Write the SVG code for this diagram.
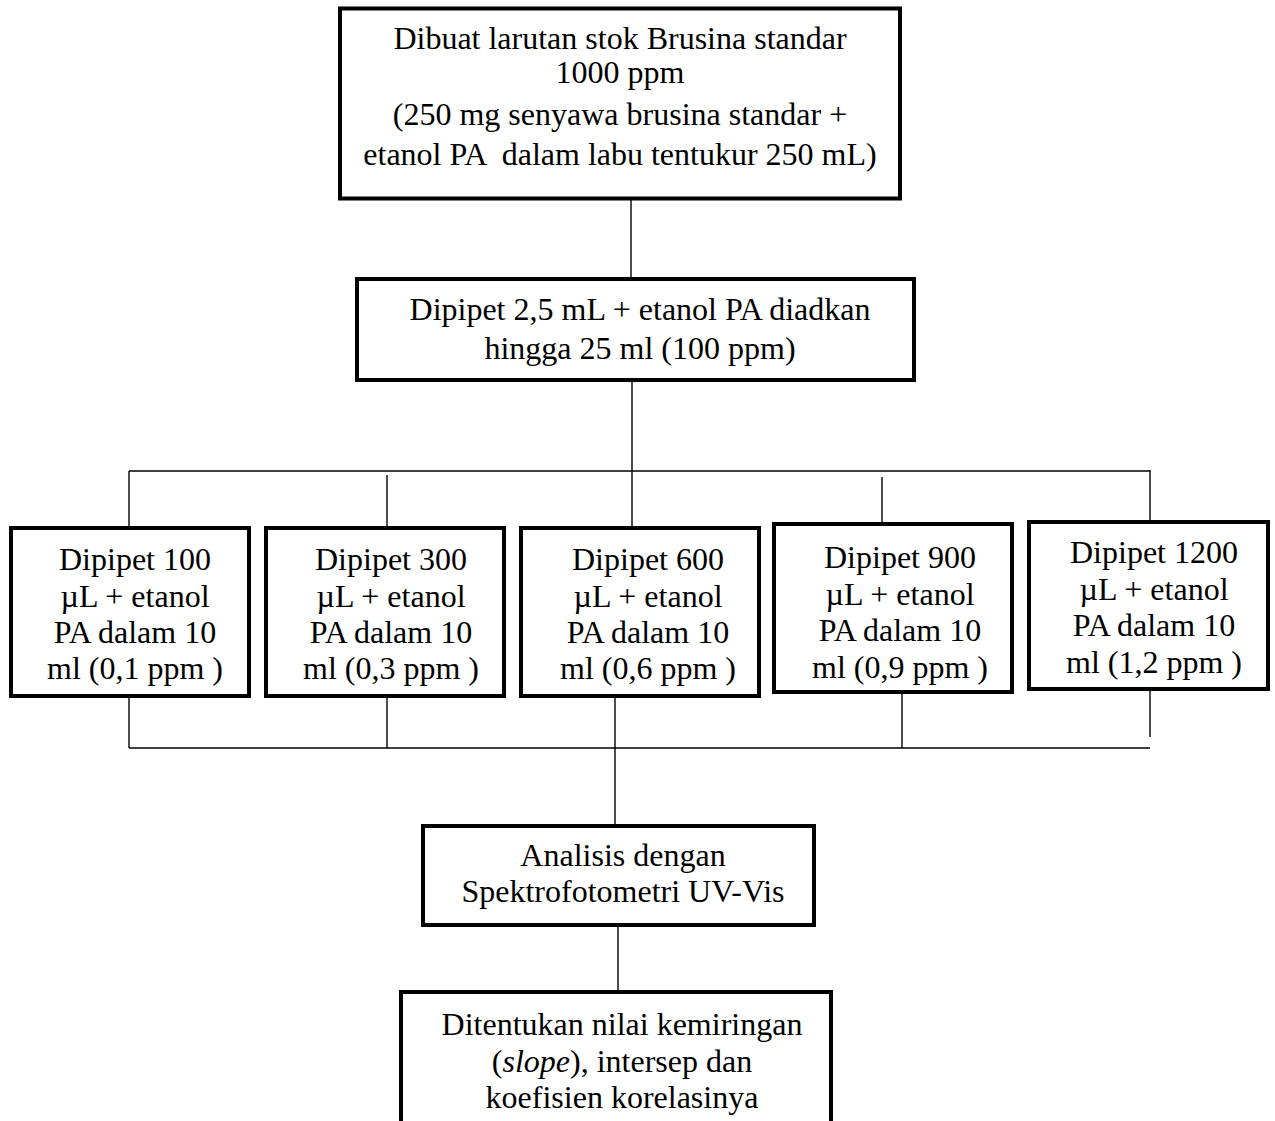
<svg xmlns="http://www.w3.org/2000/svg" width="1275" height="1121" viewBox="0 0 1275 1121">
  <style>
    .box { fill: #ffffff; stroke: #000000; stroke-width: 4; }
    .wire { stroke: #000000; stroke-width: 1.4; fill: none; }
    text { font-family: "Liberation Serif", "Times New Roman", serif; font-size: 32px; fill: #000000; text-anchor: middle; white-space: pre; }
  </style>
  <rect width="1275" height="1121" fill="#ffffff"/>

  <!-- connectors -->
  <g id="connectors">
    <line class="wire" x1="631" y1="200" x2="631" y2="277"/>
    <line class="wire" x1="632" y1="382" x2="632" y2="526"/>
    <line class="wire" x1="129" y1="471" x2="1150" y2="471"/>
    <line class="wire" x1="129" y1="471" x2="129" y2="526"/>
    <line class="wire" x1="387" y1="475" x2="387" y2="526"/>
    <line class="wire" x1="882" y1="477" x2="882" y2="522"/>
    <line class="wire" x1="1150" y1="470" x2="1150" y2="520"/>
    <line class="wire" x1="129" y1="697" x2="129" y2="748"/>
    <line class="wire" x1="387" y1="697" x2="387" y2="748"/>
    <line class="wire" x1="615" y1="697" x2="615" y2="825"/>
    <line class="wire" x1="902" y1="693" x2="902" y2="748"/>
    <line class="wire" x1="1150" y1="691" x2="1150" y2="737"/>
    <line class="wire" x1="129" y1="748" x2="1150" y2="748"/>
    <line class="wire" x1="618" y1="925" x2="618" y2="990"/>
  </g>

  <!-- stock solution -->
  <g id="stok">
    <rect class="box" x="340" y="8.5" width="560" height="190"/>
    <text x="620" y="49">Dibuat larutan stok Brusina standar</text>
    <text x="620" y="83">1000 ppm</text>
    <text x="620" y="125">(250 mg senyawa brusina standar +</text>
    <text x="620" y="165">etanol PA  dalam labu tentukur 250 mL)</text>
  </g>

  <!-- 100 ppm dilution -->
  <g id="pengenceran">
    <rect class="box" x="357" y="279" width="557" height="101"/>
    <text x="640" y="320">Dipipet 2,5 mL + etanol PA diadkan</text>
    <text x="640" y="359">hingga 25 ml (100 ppm)</text>
  </g>

  <!-- calibration series -->
  <g id="seri-100">
    <rect class="box" x="11" y="528" width="238" height="168"/>
    <text x="135" y="570">Dipipet 100</text>
    <text x="135" y="606.5">µL + etanol</text>
    <text x="135" y="643">PA dalam 10</text>
    <text x="135" y="679">ml (0,1 ppm )</text>
  </g>
  <g id="seri-300">
    <rect class="box" x="266" y="528" width="238" height="168"/>
    <text x="391" y="570">Dipipet 300</text>
    <text x="391" y="606.5">µL + etanol</text>
    <text x="391" y="643">PA dalam 10</text>
    <text x="391" y="679">ml (0,3 ppm )</text>
  </g>
  <g id="seri-600">
    <rect class="box" x="521" y="528" width="238" height="168"/>
    <text x="648" y="570">Dipipet 600</text>
    <text x="648" y="606.5">µL + etanol</text>
    <text x="648" y="643">PA dalam 10</text>
    <text x="648" y="679">ml (0,6 ppm )</text>
  </g>
  <g id="seri-900">
    <rect class="box" x="774" y="524" width="238" height="168"/>
    <text x="900" y="568">Dipipet 900</text>
    <text x="900" y="604.5">µL + etanol</text>
    <text x="900" y="641">PA dalam 10</text>
    <text x="900" y="678">ml (0,9 ppm )</text>
  </g>
  <g id="seri-1200">
    <rect class="box" x="1029" y="522" width="239" height="167"/>
    <text x="1154" y="563">Dipipet 1200</text>
    <text x="1154" y="600">µL + etanol</text>
    <text x="1154" y="636">PA dalam 10</text>
    <text x="1154" y="673">ml (1,2 ppm )</text>
  </g>

  <!-- measurement -->
  <g id="analisis">
    <rect class="box" x="423" y="826" width="391" height="99"/>
    <text x="623" y="866">Analisis dengan</text>
    <text x="623" y="902">Spektrofotometri UV-Vis</text>
  </g>

  <!-- result -->
  <g id="hasil">
    <rect class="box" x="401" y="992" width="430" height="160"/>
    <text x="622" y="1035">Ditentukan nilai kemiringan</text>
    <text x="622" y="1072">(<tspan font-style="italic">slope</tspan>), intersep dan</text>
    <text x="622" y="1108">koefisien korelasinya</text>
  </g>
</svg>
